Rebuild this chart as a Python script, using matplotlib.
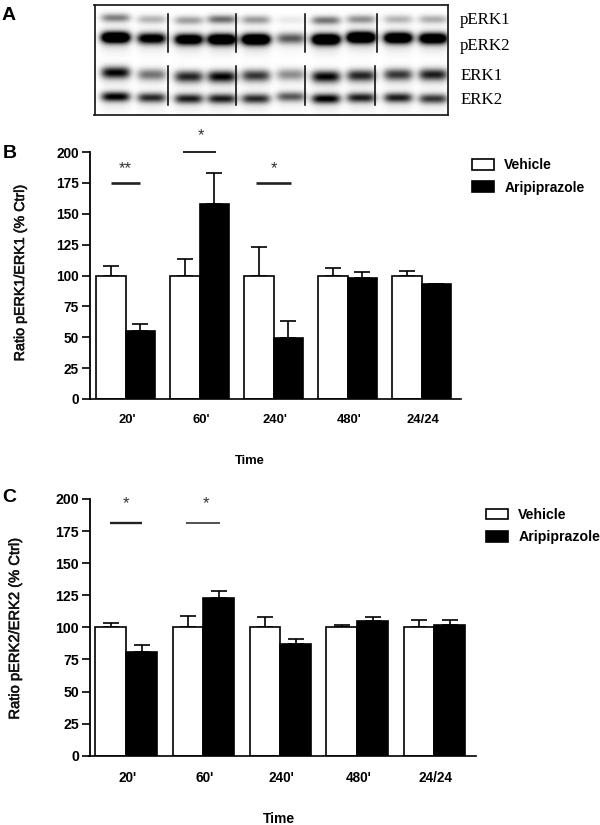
import numpy as np
import matplotlib
matplotlib.use('Agg')
import matplotlib.pyplot as plt
import matplotlib.patheffects as pe

W, H = 600, 825
plt.rcParams['font.family'] = ['Liberation Sans', 'DejaVu Sans']

# Data
groups = ["20'", "60'", "240'", "480'", "24/24"]
y_ticks = [0, 25, 50, 75, 100, 125, 150, 175, 200]

vehicle_b = [100, 100, 100, 100, 100]
vehicle_b_err = [7.5, 13, 23, 6, 4]
aripi_b = [55, 158, 49.5, 98, 93]
aripi_b_err = [5.5, 25, 13.5, 4.5, 0.5]

vehicle_c = [100, 100, 100, 100, 100]
vehicle_c_err = [3, 9, 8, 2, 6]
aripi_c = [81, 123, 87, 105, 101.5]
aripi_c_err = [5, 5, 4, 3, 4]

# Significance bars: group index, half length, height
sig_b = [(0, 0.2, 175), (1, 0.22, 200), (2, 0.24, 175)]
sig_c = [(0, 0.21, 181.5), (1, 0.22, 181.5)]

# Blot band darkness per lane, and band centre rows
band_perk1 = [.48, .28, .36, .55, .38, .08, .52, .42, .28, .30]
band_perk2 = [1.7, 1.2, 1.4, 1.6, 1.7, .62, 1.7, 1.8, 1.6, 1.5]
band_erk1 = [.95, .52, .82, .95, .75, .42, .95, .82, .75, .85]
band_erk2 = [.98, .80, .85, .85, .80, .62, .98, .85, .85, .75]
row_perk1 = [18.5, 20, 21, 20, 20.5, 20.5, 21, 20, 20, 20]
row_perk2 = [38, 39, 40, 40, 40, 39, 40, 38, 38.5, 39]
row_erk1 = [73, 75, 77, 77, 76, 75, 77, 76, 75, 75]
row_erk2 = [97, 98, 99, 99, 99, 97, 99, 98, 98, 99]
lanes = [115, 151, 188, 221, 255, 290, 325, 360, 397, 432]


def px_axes(fig, left, top, right, bottom):
    return fig.add_axes([left / W, 1 - bottom / H, (right - left) / W, (bottom - top) / H])


def fig_text(fig, x, y, s, **kw):
    kw.setdefault('ha', 'center')
    kw.setdefault('va', 'center')
    return fig.text(x / W, 1 - y / H, s, **kw)


def draw_bars(ax, vehicle, vehicle_err, aripi, aripi_err, sig, sig_lw, tick_pad, tick_size, y_size, label_shift):
    x = np.arange(len(groups))
    width = 0.4
    white = ax.bar(x - width / 2, vehicle, width, color='white', edgecolor='black', linewidth=1.2, zorder=2)
    black = ax.bar(x + width / 2, aripi, width, color='black', edgecolor='black', linewidth=1.2, zorder=2)
    for xs, vals, errs in ((x - width / 2, vehicle, vehicle_err), (x + width / 2, aripi, aripi_err)):
        ax.errorbar(xs, vals, yerr=[np.zeros(len(errs)), errs], fmt='none', ecolor='black',
                    elinewidth=1.2, capsize=5.5, capthick=1.2, zorder=1)
    ax.set_ylim(0, 200)
    ax.set_yticks(y_ticks)
    ax.set_xticks(x + label_shift)
    ax.set_xticklabels(groups, fontweight='bold', fontsize=tick_size)
    ax.tick_params(axis='x', length=0, pad=tick_pad)
    ax.tick_params(axis='y', length=5.5, width=1.2, pad=2)
    for lab in ax.get_yticklabels():
        lab.set_fontweight('bold')
        lab.set_fontsize(y_size)
    ax.spines['top'].set_visible(False)
    ax.spines['right'].set_visible(False)
    ax.spines['left'].set_linewidth(1.3)
    ax.spines['bottom'].set_linewidth(1.2)
    ax.patch.set_alpha(0)
    for (i, half, level), lw in zip(sig, sig_lw):
        ax.plot([i - half, i + half], [level, level], color='#222222', lw=lw,
                clip_on=False, solid_capstyle='butt')
    return white, black


fig = plt.figure(figsize=(W / 100, H / 100), dpi=100)

# Panel A blot
blot_left, blot_top, blot_right, blot_bottom = 94.5, 5, 447.7, 115.3
ax_a = px_axes(fig, blot_left, blot_top, blot_right, blot_bottom)
xx, yy = np.meshgrid(np.arange(blot_left, blot_right, 0.5), np.arange(blot_top, blot_bottom, 0.5))
dark = np.zeros_like(xx)
for bands, rows, thick in ((band_perk1, row_perk1, 4.2), (band_perk2, row_perk2, 5.4),
                           (band_erk1, row_erk1, 5.8), (band_erk2, row_erk2, 4.8)):
    for xc, val, yc in zip(lanes, bands, rows):
        shape = np.exp(-((xx - xc) / 14.5) ** 4)
        dark += val * shape * np.exp(-((yy - yc) / thick) ** 2)
        dark += 0.08 * val * shape * np.exp(-((yy - yc - 5) / 10.0) ** 2)
ax_a.imshow(1 - np.clip(dark, 0, 1), cmap='gray', vmin=0, vmax=1, aspect='auto',
            extent=[blot_left, blot_right, blot_bottom, blot_top], interpolation='bilinear')
for xp in (168, 235.5, 305, 377):
    ax_a.plot([xp, xp], [14, 52], color='black', lw=1.1)
for xp in (168, 235.5, 304.5, 375):
    ax_a.plot([xp, xp], [66, 105], color='black', lw=1.1)
ax_a.set_xlim(blot_left, blot_right)
ax_a.set_ylim(blot_bottom, blot_top)
ax_a.set_xticks([])
ax_a.set_yticks([])
for sp in ax_a.spines.values():
    sp.set_linewidth(1.3)
    sp.set_color('#222222')
for s, xp, yp in (('pERK1', 460, 20.5), ('pERK2', 460, 45.5), ('ERK1', 461, 76), ('ERK2', 461, 100)):
    fig_text(fig, xp, yp, s, ha='left', family='Liberation Serif', fontsize=12.2)

# heavier y labels, the reference sits between regular and bold
heavy = [pe.withStroke(linewidth=0.4, foreground='#111111')]

# Panel B
ax_b = px_axes(fig, 89.5, 152, 460.7, 399)
ax_b.set_xlim(-36.0 / 74, 335.2 / 74)
white, black = draw_bars(ax_b, vehicle_b, vehicle_b_err, aripi_b, aripi_b_err, sig_b, [1.9, 1.4, 1.9],
                         11, 9.4, 9.8, 0.025)
for s, xp, yp in (('**', 125.5, 168.5), ('*', 200.5, 135.5), ('*', 274, 169)):
    fig_text(fig, xp, yp, s, fontsize=12, color='#333333')
fig_text(fig, 20, 273, 'Ratio pERK1/ERK1 (% Ctrl)', rotation=90, fontsize=10.3, color='#111111', path_effects=heavy)
fig_text(fig, 250, 461, 'Time', fontweight='bold', fontsize=9.4)
ax_b.legend([white, black], ['Vehicle', 'Aripiprazole'], loc='upper left',
            bbox_to_anchor=(472 / W, 1 - 158 / H), bbox_transform=fig.transFigure,
            frameon=False, prop={'weight': 'bold', 'size': 10}, handlelength=1.6, handleheight=0.85,
            handletextpad=0.72, labelspacing=0.62, borderpad=0, borderaxespad=0)

# Panel C
ax_c = px_axes(fig, 89.5, 499, 475.7, 755.7)
ax_c.set_xlim(-36.8 / 77, 349.4 / 77)
white, black = draw_bars(ax_c, vehicle_c, vehicle_c_err, aripi_c, aripi_c_err, sig_c, [1.7, 1.1],
                         11, 9.8, 10.2, 0.02)
for s, xp, yp in (('*', 126, 504), ('*', 205.5, 504)):
    fig_text(fig, xp, yp, s, fontsize=12, color='#333333')
fig_text(fig, 15, 628, 'Ratio pERK2/ERK2 (% Ctrl)', rotation=90, fontsize=10.6, color='#111111', path_effects=heavy)
fig_text(fig, 279, 819, 'Time', fontweight='bold', fontsize=10)
ax_c.legend([white, black], ['Vehicle', 'Aripiprazole'], loc='upper left',
            bbox_to_anchor=(486 / W, 1 - 508 / H), bbox_transform=fig.transFigure,
            frameon=False, prop={'weight': 'bold', 'size': 10.2}, handlelength=1.55, handleheight=0.8,
            handletextpad=0.72, labelspacing=0.6, borderpad=0, borderaxespad=0)

# Panel letters
for s, xp, yp in (('A', 9, 15), ('B', 10, 153), ('C', 9.5, 498)):
    fig_text(fig, xp, yp, s, fontweight='bold', fontsize=14)

fig.savefig('out.png', dpi=100)
